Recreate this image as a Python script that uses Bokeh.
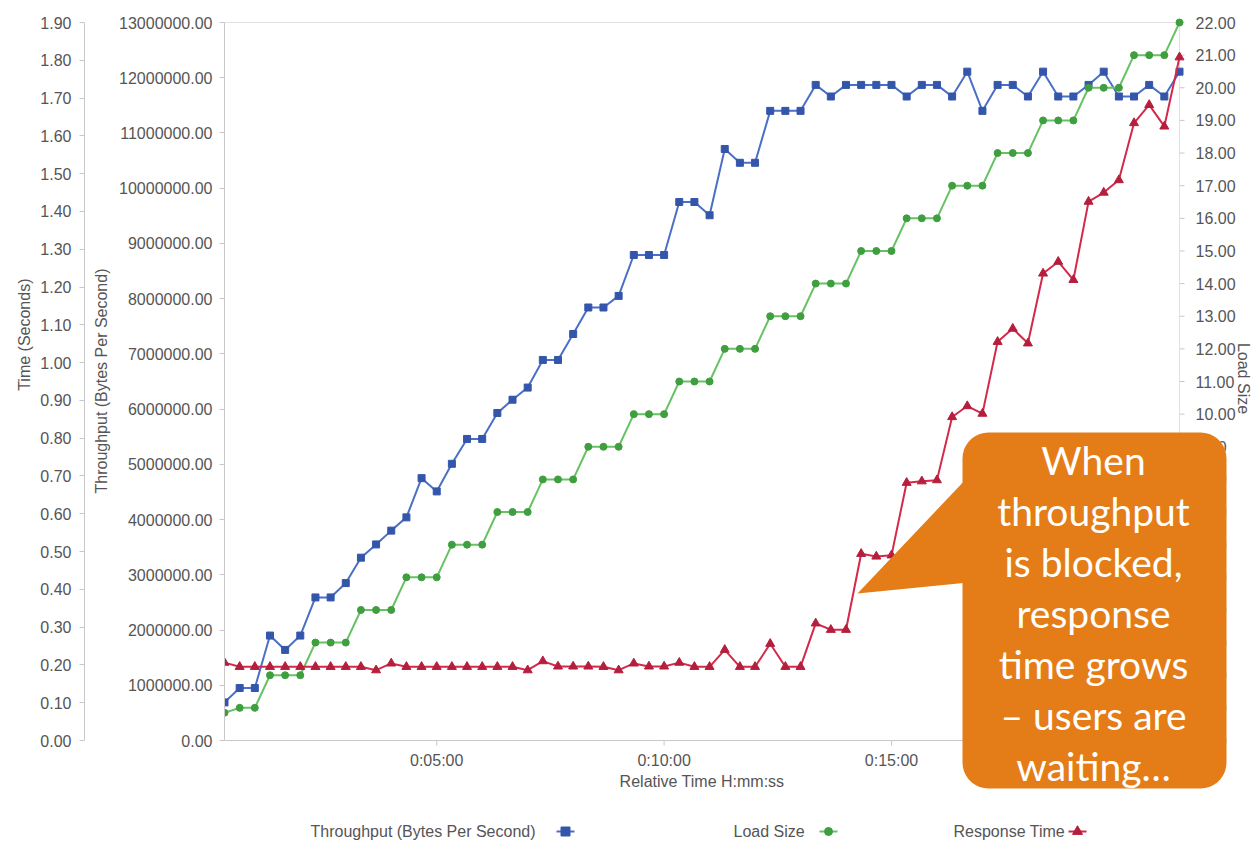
import numpy as np
from bokeh.plotting import figure
from bokeh.models import (Range1d, LinearAxis, FixedTicker, NumeralTickFormatter, Title,
                          ColumnDataSource)
from bokeh.embed import file_html
from bokeh.resources import INLINE
from bokeh.core.properties import value

# ---------------- data ----------------
elapsed_seconds = [20, 40, 60, 80, 100, 120, 140, 160, 180, 200, 220, 240, 260, 280, 300, 320,
                   340, 360, 380, 400, 420, 440, 460, 480, 500, 520, 540, 560, 580, 600, 620, 640,
                   660, 680, 700, 720, 740, 760, 780, 800, 820, 840, 860, 880, 900, 920, 940, 960,
                   980, 1000, 1020, 1040, 1060, 1080, 1100, 1120, 1140, 1160, 1180, 1200, 1220,
                   1240, 1260, 1280]

throughput_bps = [690000, 950000, 950000, 1900000, 1640000, 1900000, 2590000, 2590000,
                  2850000, 3310000, 3550000, 3800000, 4040000, 4750000, 4510000, 5010000,
                  5460000, 5460000, 5930000, 6170000, 6390000, 6890000, 6890000, 7360000,
                  7840000, 7840000, 8050000, 8790000, 8790000, 8790000, 9750000, 9750000,
                  9510000, 10710000, 10460000, 10460000, 11400000, 11400000, 11400000, 11870000,
                  11660000, 11870000, 11870000, 11870000, 11870000, 11660000, 11870000, 11870000,
                  11660000, 12110000, 11400000, 11870000, 11870000, 11660000, 12110000, 11660000,
                  11660000, 11870000, 12110000, 11660000, 11660000, 11870000, 11660000, 12110000]

load_size = [0.85, 1, 1, 2, 2, 2, 3, 3, 3, 4, 4, 4, 5, 5, 5, 6, 6, 6, 7, 7, 7, 8, 8, 8,
             9, 9, 9, 10, 10, 10, 11, 11, 11, 12, 12, 12, 13, 13, 13, 14, 14, 14,
             15, 15, 15, 16, 16, 16, 17, 17, 17, 18, 18, 18, 19, 19, 19, 20, 20, 20,
             21, 21, 21, 22]

response_time_s = [0.206, 0.195, 0.195, 0.195, 0.195, 0.195, 0.195, 0.195, 0.195, 0.195,
                   0.186, 0.204, 0.195, 0.195, 0.195, 0.195, 0.195, 0.195, 0.195, 0.195,
                   0.186, 0.210, 0.196, 0.196, 0.196, 0.195, 0.186, 0.204, 0.196, 0.196,
                   0.206, 0.195, 0.195, 0.240, 0.195, 0.195, 0.256, 0.195, 0.195, 0.310,
                   0.293, 0.293, 0.494, 0.487, 0.490, 0.682, 0.686, 0.689, 0.856, 0.885,
                   0.865, 1.055, 1.090, 1.051, 1.236, 1.267, 1.219, 1.426, 1.450, 1.483,
                   1.634, 1.682, 1.625, 1.808]

x_tick_values = [300, 600, 900, 1200]
x_tick_labels = ["0:05:00", "0:10:00", "0:15:00", "0:20:00"]
time_ticks = [0.0, 0.1, 0.2, 0.3, 0.4, 0.5, 0.6, 0.7, 0.8, 0.9, 1.0,
              1.1, 1.2, 1.3, 1.4, 1.5, 1.6, 1.7, 1.8, 1.9]
tp_ticks = [0, 1000000, 2000000, 3000000, 4000000, 5000000, 6000000, 7000000,
            8000000, 9000000, 10000000, 11000000, 12000000, 13000000]
load_ticks = [0, 1, 2, 3, 4, 5, 6, 7, 8, 9, 10, 11, 12, 13, 14, 15, 16, 17, 18, 19, 20, 21, 22]

series_names = ["Throughput (Bytes Per Second)", "Load Size", "Response Time"]
axis_titles = ["Time (Seconds)", "Relative Time H:mm:ss"]
callout_lines = ["When", "throughput", "is blocked,", "response", "time grows",
                 "\u2013 users are", "waiting\u2026"]

# ---------------- style / geometry ----------------
FONT = "Liberation Sans"
TXT = "#555555"
AX = "#c8c8c8"
BLUE_L, BLUE_M = "#4a6fc6", "#3456aa"
GREEN_L, GREEN_M = "#66c263", "#3f9e3f"
RED_L, RED_M = "#d3294a", "#b51e3c"
ORANGE = "#e47c17"

CW, CH = 1251, 843          # canvas
FL, FR, FT, FB = 224, 1179, 22, 740   # data area in canvas px
X0, X1 = 20, 1280
T1, TP1, L1 = 1.9, 13000000, 22

def tx(px):
    return X0 + (px - FL) * (X1 - X0) / (FR - FL)

def vy(py, top=T1):
    return (FB - py) * top / (FB - FT)

p = figure(frame_width=CW - FL, frame_height=CH,
           min_border_left=FL, min_border_right=0, min_border_top=0, min_border_bottom=0,
           x_range=Range1d(tx(FL), tx(CW)), y_range=Range1d(vy(CH), vy(0)),
           toolbar_location=None, output_backend="svg",
           x_axis_location=None, y_axis_location=None,
           background_fill_color="white", border_fill_color="white",
           outline_line_color=None)
p.grid.visible = False
p.extra_y_ranges = {"tp": Range1d(vy(CH, TP1), vy(0, TP1)),
                    "load": Range1d(vy(CH, L1), vy(0, L1))}

def style_axis(ax, standoff):
    ax.axis_line_color = AX
    ax.major_tick_line_color = AX
    ax.major_tick_out = 5
    ax.major_tick_in = 0
    ax.minor_tick_line_color = None
    ax.major_label_text_font = FONT
    ax.major_label_text_font_size = "16px"
    ax.major_label_text_color = TXT
    ax.major_label_standoff = standoff

def make_title(text, top_px, standoff):
    # align="right" on a left panel puts the end of the text top_px below the top
    return Title(text=text, align="right", offset=top_px, standoff=standoff,
                 text_font=FONT, text_font_size="16px", text_font_style="normal",
                 text_color=TXT)

ax_tp = LinearAxis(y_range_name="tp", ticker=FixedTicker(ticks=tp_ticks),
                   formatter=NumeralTickFormatter(format="0.00"), bounds=(0, TP1))
style_axis(ax_tp, 7)
p.add_layout(ax_tp, "left")
p.add_layout(make_title(series_names[0], 268, 13), "left")

ax_time = LinearAxis(ticker=FixedTicker(ticks=time_ticks),
                     formatter=NumeralTickFormatter(format="0.00"), bounds=(0, T1))
style_axis(ax_time, 8)
p.add_layout(ax_time, "left")
p.add_layout(make_title(axis_titles[0], 278, 10), "left")

txt_kw = dict(text_font=value(FONT), text_font_size="16px", text_color=TXT)

# frame top line and bottom (x) axis
p.segment(x0=[X0], y0=[T1], x1=[X1], y1=[T1], line_color="#e2e2e2", line_width=1)
p.segment(x0=[X0], y0=[0], x1=[X1], y1=[0], line_color=AX, line_width=1)
p.segment(x0=x_tick_values, y0=[0] * len(x_tick_values), x1=x_tick_values,
          y1=[vy(FB + 5)] * len(x_tick_values), line_color=AX)
p.text(x=x_tick_values, y=[0] * len(x_tick_values), text=x_tick_labels, y_offset=20,
       text_align="center", text_baseline="middle", **txt_kw)
p.text(x=[(X0 + X1) / 2], y=[0], text=[axis_titles[1]], y_offset=41,
       text_align="center", text_baseline="middle", **txt_kw)

# right (load) axis
p.segment(x0=[X1], y0=[0], x1=[X1], y1=[L1], y_range_name="load", line_color="#e2e2e2")
p.segment(x0=[X1] * len(load_ticks), y0=load_ticks, x1=[tx(FR + 5)] * len(load_ticks),
          y1=load_ticks, y_range_name="load", line_color=AX)
p.text(x=[X1] * len(load_ticks), y=load_ticks, text=[f"{v:.2f}" for v in load_ticks],
       x_offset=16, text_align="left", text_baseline="middle", y_range_name="load", **txt_kw)
p.text(x=[tx(1243)], y=[vy(378)], text=[series_names[1]], angle=-np.pi / 2,
       text_align="center", text_baseline="middle", **txt_kw)

# ---------------- series ----------------
src = ColumnDataSource(dict(t=elapsed_seconds, tp=throughput_bps, load=load_size, rt=response_time_s))
p.line("t", "tp", source=src, y_range_name="tp", line_color=BLUE_L, line_width=2)
p.scatter("t", "tp", source=src, y_range_name="tp", marker="square", size=7,
          fill_color=BLUE_M, line_color=BLUE_M)
p.line("t", "load", source=src, y_range_name="load", line_color=GREEN_L, line_width=2)
p.scatter("t", "load", source=src, y_range_name="load", marker="circle", size=7,
          fill_color=GREEN_M, line_color=GREEN_M)
p.line("t", "rt", source=src, line_color=RED_L, line_width=2)
p.scatter("t", "rt", source=src, marker="triangle", size=9,
          fill_color=RED_M, line_color=RED_M)

# ---------------- callout ----------------
def rounded_rect(x0, y0, x1, y1, r, n=10):
    xs, ys = [], []
    corners = [(x1 - r, y0 + r, -90, 0), (x1 - r, y1 - r, 0, 90),
               (x0 + r, y1 - r, 90, 180), (x0 + r, y0 + r, 180, 270)]
    for cx, cy, a0, a1 in corners:
        for a in np.linspace(np.radians(a0), np.radians(a1), n):
            xs.append(cx + r * np.cos(a))
            ys.append(cy + r * np.sin(a))
    return xs, ys

rx, ry = rounded_rect(962, 432, 1226, 788, 26)
p.patch([tx(v) for v in rx], [vy(v) for v in ry], fill_color=ORANGE, line_color=None)
ptx, pty = [857, 968, 968], [593, 476, 582]
p.patch([tx(v) for v in ptx], [vy(v) for v in pty], fill_color=ORANGE, line_color=None)
p.text(x=[tx(1093)] * len(callout_lines),
       y=[vy(459 + 51 * k) for k in range(len(callout_lines))],
       text=callout_lines, text_align="center", text_baseline="alphabetic",
       text_font=value("Lato"), text_font_size="39px", text_color="white")

# ---------------- legend ----------------
LY = vy(831)
text_px = [310, 733, 953]
mark_px = [565, 828, 1077]
markers = ["square", "circle", "triangle"]
lcols = [BLUE_L, GREEN_L, RED_L]
mcols = [BLUE_M, GREEN_M, RED_M]
msizes = [9, 8, 10]
p.text(x=[tx(v) for v in text_px], y=[LY] * 3, text=series_names,
       text_align="left", text_baseline="middle", **txt_kw)
for mx, mk, lc, mc, ms in zip(mark_px, markers, lcols, mcols, msizes):
    p.line([tx(mx - 9), tx(mx + 9)], [LY, LY], line_color=lc, line_width=2)
    p.scatter([tx(mx)], [LY], marker=mk, size=ms, fill_color=mc, line_color=mc)

open("out.html", "w").write(file_html(p, INLINE))
